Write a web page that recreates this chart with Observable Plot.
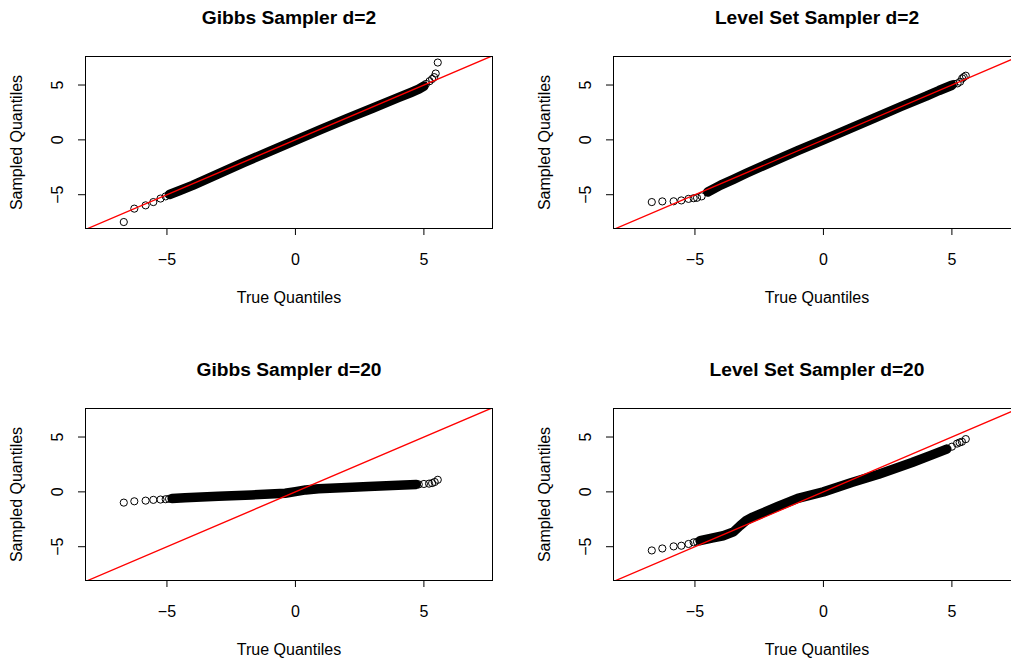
<!DOCTYPE html>
<html>
<head>
<meta charset="utf-8">
<script src="https://cdn.jsdelivr.net/npm/d3@7"></script>
<script src="https://cdn.jsdelivr.net/npm/@observablehq/plot@0.6"></script>
<style>
html, body { margin: 0; padding: 0; background: #fff; }
#wrap { position: relative; width: 1011px; height: 660px; overflow: hidden; background: #fff; }
.panel { position: absolute; width: 528px; height: 352px; }
</style>
</head>
<body>
<div id="wrap"></div>
<script>
// ---- tick labels, axis labels, titles ----
const xTicks = [-5, 0, 5];
const yTicks = [-5, 0, 5];
const xLabel = "True Quantiles";
const yLabel = "Sampled Quantiles";
const titles = ["Gibbs Sampler d=2", "Level Set Sampler d=2", "Gibbs Sampler d=20", "Level Set Sampler d=20"];
// reference line y = x (endpoints beyond the plotting box; clipped)
const refLine = [-8.3, 7.8];

// ---- Gibbs Sampler d=2 ----
const gibbs2TailX = [-6.68, -6.27, -5.83, -5.53, -5.25, -5.05, -4.92, 4.95, 5.08, 5.22, 5.32, 5.40, 5.46, 5.54];
const gibbs2TailY = [-7.49, -6.27, -5.97, -5.67, -5.35, -5.15, -4.98, 4.85, 5.10, 5.35, 5.55, 5.72, 6.05, 7.05];
const gibbs2BandX = [-4.9, -4.5, -4.0, -3.0, -2.0, -1.0, 0.0, 1.0, 2.0, 3.0, 4.0, 4.5, 4.8, 5.0];
const gibbs2BandY = [-4.98, -4.62, -4.15, -3.10, -2.05, -1.05, -0.05, 0.95, 1.93, 2.88, 3.85, 4.32, 4.62, 4.90];

// ---- Level Set Sampler d=2 ----
const level2TailX = [-6.68, -6.27, -5.83, -5.53, -5.25, -5.05, -4.92, -4.74, 5.08, 5.22, 5.32, 5.40, 5.46, 5.54];
const level2TailY = [-5.67, -5.61, -5.60, -5.52, -5.38, -5.32, -5.28, -5.15, 5.10, 5.15, 5.30, 5.60, 5.72, 5.85];
const level2BandX = [-4.5, -4.0, -3.5, -3.0, -2.0, -1.0, 0.0, 1.0, 2.0, 3.0, 4.0, 4.5, 5.0];
const level2BandY = [-4.75, -4.12, -3.60, -3.05, -2.00, -0.98, 0.00, 1.00, 2.00, 3.02, 3.98, 4.50, 4.98];

// ---- Gibbs Sampler d=20 ----
const gibbs20TailX = [-6.68, -6.27, -5.83, -5.53, -5.25, -5.05, -4.92, 4.80, 5.00, 5.20, 5.32, 5.42, 5.54];
const gibbs20TailY = [-0.98, -0.86, -0.80, -0.73, -0.70, -0.67, -0.63, 0.68, 0.72, 0.75, 0.80, 0.90, 1.10];
const gibbs20BandX = [-4.8, -4.3, -3.0, -1.7, -0.8, -0.4, 0.0, 0.4, 0.9, 2.0, 2.85, 4.0, 4.7];
const gibbs20BandY = [-0.60, -0.53, -0.40, -0.28, -0.18, -0.12, 0.02, 0.18, 0.28, 0.40, 0.49, 0.60, 0.68];

// ---- Level Set Sampler d=20 ----
const level20TailX = [-6.68, -6.27, -5.83, -5.53, -5.25, -5.05, -4.92, 5.00, 5.20, 5.30, 5.39, 5.54];
const level20TailY = [-5.34, -5.16, -4.97, -4.91, -4.75, -4.60, -4.55, 4.12, 4.40, 4.50, 4.57, 4.81];
const level20BandX = [-4.8, -4.3, -3.9, -3.5, -3.25, -3.0, -2.75, -1.75, -1.0, 0.0, 1.1, 2.15, 3.45, 4.2, 4.8];
const level20BandY = [-4.45, -4.20, -4.00, -3.65, -3.10, -2.60, -2.30, -1.30, -0.60, 0.00, 0.85, 1.60, 2.68, 3.35, 3.90];

const FONT = "'Liberation Sans', Arial, Helvetica, sans-serif";
const fmt = d => d < 0 ? "\u2212" + Math.abs(d) : String(d);

function panel(title, tailX, tailY, bandX, bandY) {
  const tail = tailX.map((x, i) => ({x, y: tailY[i]}));
  const band = bandX.map((x, i) => ({x, y: bandY[i]}));
  return Plot.plot({
    width: 528, height: 352,
    marginLeft: 85, marginRight: 36, marginTop: 56, marginBottom: 124,
    style: {fontFamily: FONT, background: "white", color: "black", overflow: "visible"},
    x: {domain: [-8.17, 7.67]},
    y: {domain: [-8.08, 7.6]},
    marks: [
      Plot.line(band, {x: "x", y: "y", stroke: "black", strokeWidth: 9.5, strokeLinecap: "round", strokeLinejoin: "round"}),
      Plot.dot(tail, {x: "x", y: "y", r: 3.6, stroke: "black", strokeWidth: 1, fill: "none"}),
      Plot.line(refLine, {x: d => d, y: d => d, stroke: "red", strokeWidth: 1.3, clip: true}),
      Plot.frame({stroke: "black", strokeWidth: 1}),
      Plot.axisX(xTicks, {tickSize: 7, tickPadding: 18, fontSize: 16, label: null, tickFormat: fmt, stroke: "black"}),
      Plot.axisY(yTicks, {tickSize: 7, tickPadding: 15.7, tickRotate: -90, fontSize: 16, label: null, tickFormat: fmt, stroke: "black"}),
      Plot.text([title], {text: d => d, frameAnchor: "top", dy: -33, lineAnchor: "bottom", fontSize: 19.2, fontWeight: "bold", fill: "black"}),
      Plot.text([xLabel], {text: d => d, frameAnchor: "bottom", dy: 74, lineAnchor: "bottom", fontSize: 16, fill: "black"}),
      Plot.text([yLabel], {text: d => d, frameAnchor: "middle", dx: -267, rotate: -90, textAnchor: "middle", lineAnchor: "bottom", fontSize: 16, fill: "black"})
    ]
  });
}

const specs = [
  [titles[0], gibbs2TailX, gibbs2TailY, gibbs2BandX, gibbs2BandY, 0, 0],
  [titles[1], level2TailX, level2TailY, level2BandX, level2BandY, 527.5, 0],
  [titles[2], gibbs20TailX, gibbs20TailY, gibbs20BandX, gibbs20BandY, 0, 351.5],
  [titles[3], level20TailX, level20TailY, level20BandX, level20BandY, 527.5, 351.5]
];
const wrap = document.getElementById("wrap");
for (const [t, tx, ty, bx, by, left, top] of specs) {
  const div = document.createElement("div");
  div.className = "panel";
  div.style.left = left + "px";
  div.style.top = top + "px";
  div.appendChild(panel(t, tx, ty, bx, by));
  wrap.appendChild(div);
}
</script>
</body>
</html>
